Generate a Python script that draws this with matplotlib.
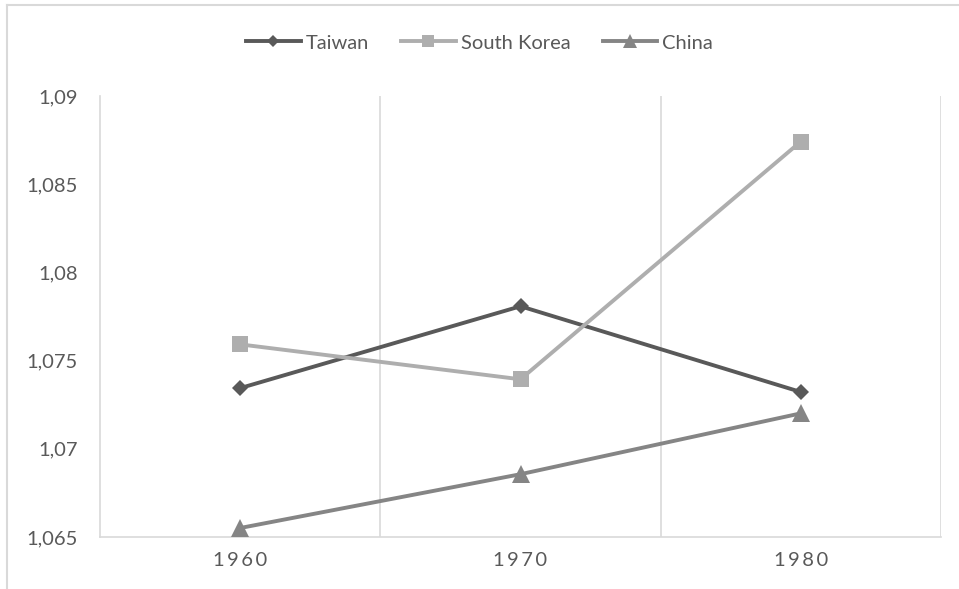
import matplotlib
matplotlib.use("Agg")
import matplotlib.pyplot as plt
from matplotlib.lines import Line2D

plt.rcParams['font.family'] = ['Lato', 'DejaVu Sans']

years = ["1960", "1970", "1980"]
taiwan = [1.07344, 1.07808, 1.07322]
south_korea = [1.07592, 1.07394, 1.08742]
china = [1.06551, 1.06856, 1.07201]
y_ticks = [1.065, 1.07, 1.075, 1.08, 1.085, 1.09]
y_tick_labels = ["1,065", "1,07", "1,075", "1,08", "1,085", "1,09"]

text_color = "#595959"
axis_color = "#D9D9D9"
fs = 14.5

fig = plt.figure(figsize=(9.59, 5.89), dpi=100)
ax = fig.add_axes([100 / 959, (589 - 537) / 589, (941 - 100) / 959, (537 - 96) / 589])

x = list(range(len(years)))
series = [
    ("Taiwan", taiwan, "#595959", "D", 8.3),
    ("South Korea", south_korea, "#AEAEAE", "s", 12),
    ("China", china, "#858585", "^", 12.5),
]
for name, vals, color, marker, ms in series:
    ax.plot(x, vals, color=color, lw=2.8, marker=marker, markersize=ms,
            markeredgewidth=0, label=name, solid_capstyle="round", zorder=3)

ax.set_xlim(-0.5, len(years) - 0.5)
ax.set_ylim(y_ticks[0], y_ticks[-1])
ax.set_yticks(y_ticks)
ax.set_yticklabels(y_tick_labels)
ax.set_xticks(x)
ax.set_xticklabels(["\u2009".join(y) for y in years])

# vertical separators between categories
for b in [0.5, 1.5, 2.5]:
    ax.axvline(b, color=axis_color, lw=1.2, zorder=1)

ax.spines["top"].set_visible(False)
ax.spines["right"].set_visible(False)
ax.spines["left"].set_color(axis_color)
ax.spines["left"].set_linewidth(1.2)
ax.spines["bottom"].set_color(axis_color)
ax.spines["bottom"].set_linewidth(1.2)

ax.tick_params(axis="both", length=0, colors=text_color, labelsize=fs)
ax.tick_params(axis="y", pad=16)
ax.tick_params(axis="x", pad=11)

handles = [Line2D([0], [0], color=c, lw=2.8, marker=m, markersize=ms * 0.75,
                  markeredgewidth=0) for _, _, c, m, ms in series]
fig.legend(handles, [s[0] for s in series], loc="center", ncol=3,
           bbox_to_anchor=(0.5, 1 - 43 / 589), frameon=False, fontsize=fs,
           handlelength=2.7, handletextpad=0.25, columnspacing=1.6,
           labelcolor=text_color)

# chart area border (top and left edges)
fig.add_artist(Line2D([7 / 959, 1], [1 - 5 / 589, 1 - 5 / 589], color=axis_color,
                      lw=1.5, transform=fig.transFigure))
fig.add_artist(Line2D([7 / 959, 7 / 959], [0, 1 - 5 / 589], color=axis_color,
                      lw=1.5, transform=fig.transFigure))

fig.savefig("out.png", dpi=100)
